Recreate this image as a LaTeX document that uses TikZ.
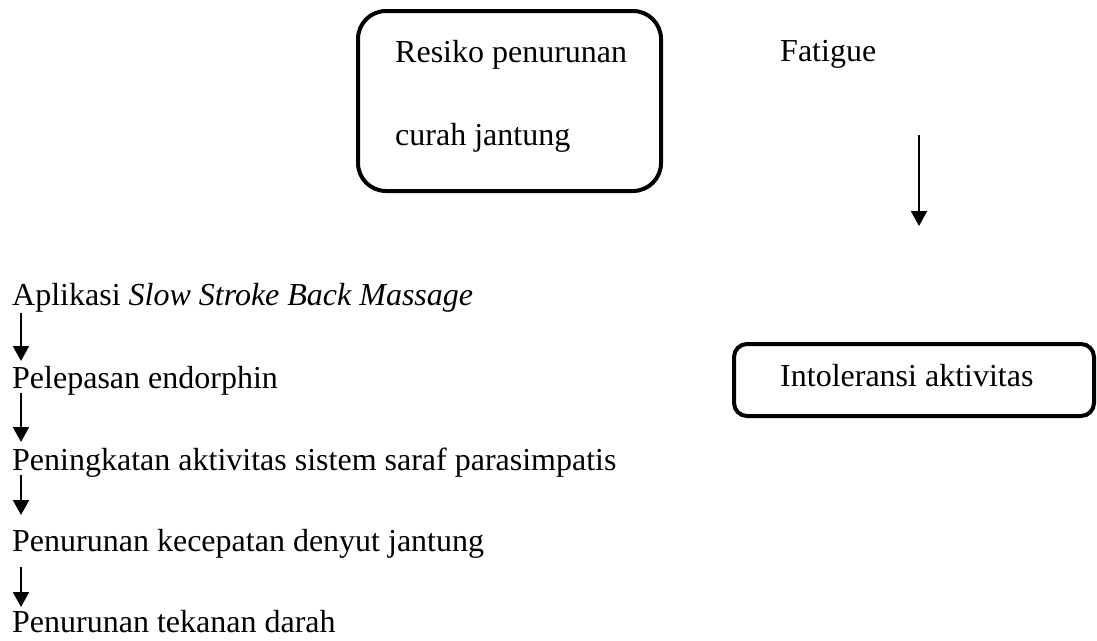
\documentclass[tikz,border=0pt]{standalone}
\usepackage{fontspec}
\setmainfont{Liberation Serif}
\usetikzlibrary{arrows.meta}
\begin{document}
\begin{tikzpicture}[x=1pt,y=-1pt,
  lbl/.style={anchor=base west,inner sep=0pt,font=\fontsize{32}{38}\selectfont},
  rbox/.style={draw,line width=4pt,inner sep=0pt},
  flow/.style={line width=2pt,-{Triangle[width=16pt,length=15pt]}}]
\useasboundingbox (0,0) rectangle (1097,640);
% boxes
\node[rbox,rounded corners=28pt,minimum width=303pt,minimum height=180pt] (box1) at (509.5,101) {};
\node[rbox,rounded corners=13pt,minimum width=360pt,minimum height=72pt] (box2) at (914,380) {};
% texts
\node[lbl] (res1) at (395,62) {Resiko penurunan};
\node[lbl] (res2) at (395,145) {curah jantung};
\node[lbl] (fat) at (780,61) {Fatigue};
\node[lbl] (into) at (780,386) {Intoleransi aktivitas};
\node[lbl] (s1) at (12,305) {Aplikasi \textit{Slow Stroke Back Massage}};
\node[lbl] (s2) at (12,388) {Pelepasan endorphin};
\node[lbl] (s3) at (12,470) {Peningkatan aktivitas sistem saraf parasimpatis};
\node[lbl] (s4) at (12,551) {Penurunan kecepatan denyut jantung};
\node[lbl] (s5) at (12,632) {Penurunan tekanan darah};
% arrow endpoints
\coordinate (fa) at (919,135);
\coordinate (fb) at (919,226);
\coordinate (a1) at (21,313); \coordinate (b1) at (21,361);
\coordinate (a2) at (21,393); \coordinate (b2) at (21,442);
\coordinate (a3) at (21,475); \coordinate (b3) at (21,515);
\coordinate (a4) at (21,567); \coordinate (b4) at (21,607);
\draw[flow] (fa) -- (fb);
\draw[flow] (a1) -- (b1);
\draw[flow] (a2) -- (b2);
\draw[flow] (a3) -- (b3);
\draw[flow] (a4) -- (b4);
\end{tikzpicture}
\end{document}
